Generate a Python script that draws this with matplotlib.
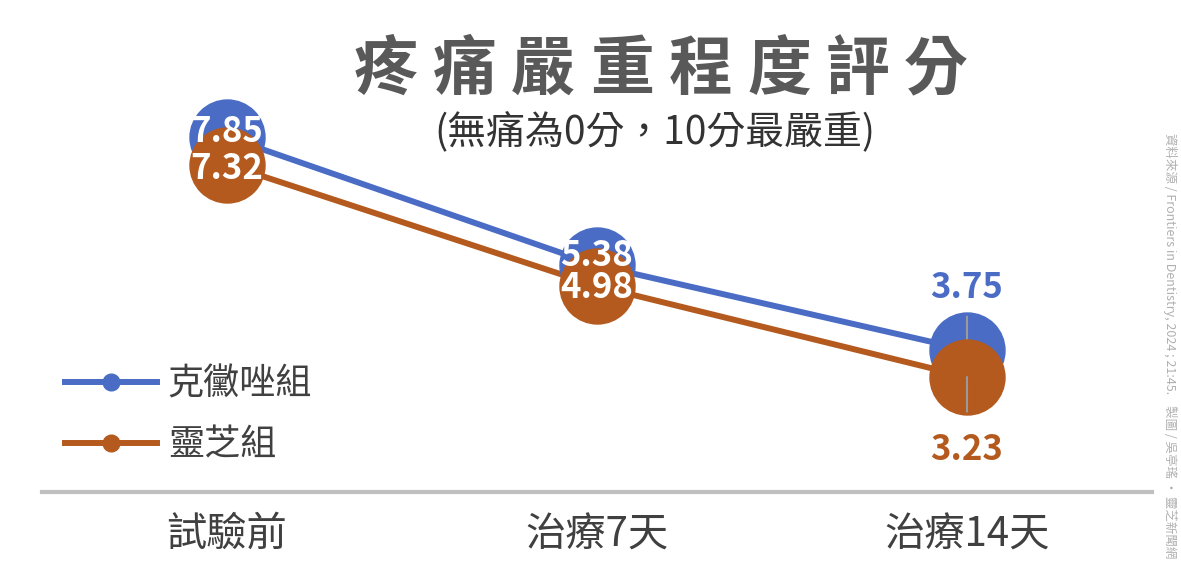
import matplotlib
matplotlib.use('Agg')
import matplotlib.pyplot as plt
import matplotlib.patheffects as pe
from matplotlib.lines import Line2D

plt.rcParams['font.family'] = ['Noto Sans CJK TC', 'DejaVu Sans']

# 資料
categories = ['試驗前', '治療7天', '治療14天']
clotrimazole = [7.85, 5.38, 3.75]
reishi = [7.32, 4.98, 3.23]
series_names = ['克黴唑組', '靈芝組']

title = '疼痛嚴重程度評分'
subtitle = '(無痛為0分，10分最嚴重)'
credit = '資料來源 / Frontiers in Dentistry, 2024 ; 21:45.    製圖 / 吳亭瑤 · 靈芝新聞網'

BLUE = '#4A6CC5'
ORANGE = '#B45A1E'
W, H = 1181, 575

fig = plt.figure(figsize=(W / 100, H / 100), dpi=100)
ax = fig.add_axes([42 / W, (H - 492) / H, 1110 / W, 492 / H])

x = list(range(len(categories)))
outline = [pe.Stroke(linewidth=8, foreground='white'), pe.Normal()]

# 線 (白邊) 與圓點分開畫
ax.plot(x, clotrimazole, color=BLUE, lw=4.3, zorder=2, path_effects=outline)
ax.plot(x, reishi, color=ORANGE, lw=4.3, zorder=2.5, path_effects=outline)
ax.plot(x, clotrimazole, ls='none', marker='o', ms=54, color=BLUE,
        markeredgecolor=BLUE, zorder=3)
ax.plot(x, reishi, ls='none', marker='o', ms=54, color=ORANGE,
        markeredgecolor=ORANGE, zorder=4)

ax.set_xlim(-0.5, 2.5)
ax.set_ylim(1.016, 10.487)

# 標籤 (偏移單位: points)
blue_off = [4, 7, 45]
orange_off = [-3, -1, -52]
for i in x:
    inside = i < 2
    ax.annotate(f'{clotrimazole[i]:.2f}', (i, clotrimazole[i]),
                xytext=(0, blue_off[i]), textcoords='offset points',
                ha='center', va='center', fontsize=25, fontweight='bold',
                color='white' if inside else BLUE, zorder=6)
    ax.annotate(f'{reishi[i]:.2f}', (i, reishi[i]),
                xytext=(0, orange_off[i]), textcoords='offset points',
                ha='center', va='center', fontsize=25, fontweight='bold',
                color='white' if inside else ORANGE, zorder=6)

# 引導線
last = len(categories) - 1
ax.annotate('', xy=(last, clotrimazole[last]), xytext=(0, 24), textcoords='offset points',
            arrowprops=dict(arrowstyle='-', color='#9a9a9a', lw=1.5, shrinkA=0, shrinkB=0),
            zorder=3.5)
ax.annotate('', xy=(last, reishi[last]), xytext=(0, -25), textcoords='offset points',
            arrowprops=dict(arrowstyle='-', color='#9a9a9a', lw=1.5, shrinkA=0, shrinkB=0),
            zorder=4.5)

for s in ['top', 'left', 'right']:
    ax.spines[s].set_visible(False)
ax.spines['bottom'].set_color('#c0c0c0')
ax.spines['bottom'].set_linewidth(3)
ax.set_yticks([])
ax.set_xticks(x)
ax.set_xticklabels(categories, fontsize=29, color='#404040')
ax.tick_params(axis='x', length=0, pad=16)

handles = [Line2D([], [], color=BLUE, lw=4.3, marker='o', ms=12),
           Line2D([], [], color=ORANGE, lw=4.3, marker='o', ms=12)]
leg = fig.legend(handles, series_names, loc='upper left',
                 bbox_to_anchor=(65 / W, 1 - 367 / H), frameon=False,
                 fontsize=26, handlelength=2.55, handletextpad=0.3,
                 labelspacing=0.67, borderpad=0, borderaxespad=0)
for t in leg.get_texts():
    t.set_color('#404040')

# 標題 (字距加寬)
for i, ch in enumerate(title):
    fig.text((386 + 78.6 * i) / W, 1 - 70 / H, ch, ha='center', va='center',
             fontsize=46, fontweight='bold', color='#595959')
fig.text(655 / W, 1 - 133 / H, subtitle, ha='center', va='center',
         fontsize=28, color='#333333')

fig.text(1170 / W, 1 - 133 / H, credit, rotation=270, ha='center', va='top',
         fontsize=9, color='#b0b0b0')

fig.savefig('out.png', dpi=100)
